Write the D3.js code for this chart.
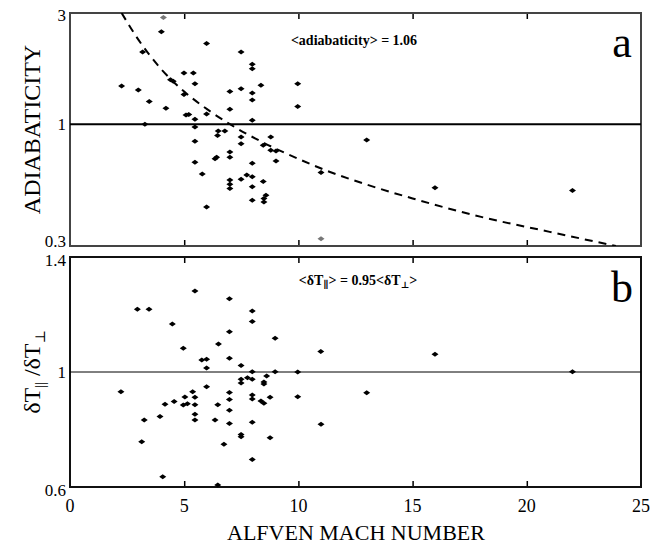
<!DOCTYPE html>
<html>
<head>
<meta charset="utf-8">
<script src="https://cdn.jsdelivr.net/npm/d3@7"></script>
<style>
  body { margin: 0; background: #fff; }
</style>
</head>
<body>
<div id="chart"></div>
<script>
// panel a: mach number vs adiabaticity (log y)
var machA = [4.09, 4.0, 5.98, 3.18, 7.49, 7.98, 7.98, 4.99, 5.40, 4.52, 4.40, 5.47, 2.26, 8.36, 9.97,
  2.99, 7.49, 7.0, 7.98, 4.99, 7.98, 3.47, 4.20, 9.97, 7.0, 5.08, 5.2, 5.98, 5.47, 7.98, 3.28,
  5.47, 6.49, 6.78, 6.46, 7.49, 8.79, 5.47, 7.49, 8.46, 8.79, 9.02, 7.0, 6.42, 6.35, 7.0, 9.02,
  5.47, 7.98, 10.99, 5.79, 7.74, 7.98, 7.49, 7.0, 7.0, 7.0, 8.46, 7.98, 8.58, 8.49, 8.49, 7.98,
  5.98, 10.99, 12.99, 15.98, 22.0];
var adiab = [2.87, 2.49, 2.22, 2.04, 2.04, 1.81, 1.73, 1.66, 1.66, 1.53, 1.55, 1.49, 1.46, 1.47, 1.49,
  1.40, 1.42, 1.38, 1.36, 1.34, 1.27, 1.25, 1.17, 1.19, 1.16, 1.095, 1.10, 1.106, 1.05, 1.04, 1.0,
  0.973, 0.935, 0.935, 0.893, 0.881, 0.881, 0.844, 0.825, 0.811, 0.773, 0.767, 0.76, 0.721, 0.71, 0.721, 0.695,
  0.686, 0.68, 0.621, 0.611, 0.605, 0.595, 0.58, 0.576, 0.552, 0.53, 0.567, 0.539, 0.495, 0.48, 0.463, 0.472,
  0.441, 0.322, 0.855, 0.534, 0.519];
// points drawn grey (top and bottom edge)
var greyA = [0, 64];

// dashed fit curve
var fitMach = [2.26, 3.0, 4.0, 5.0, 6.0, 7.0, 8.5, 10, 11, 13, 15, 18, 21, 23.9];
var fitAdiab = [3.0, 2.3, 1.72, 1.38, 1.16, 1.0, 0.83, 0.71, 0.645, 0.55, 0.48, 0.40, 0.345, 0.30];

// panel b: mach number vs dT_par/dT_perp
var machB = [5.47, 6.98, 2.95, 3.46, 7.98, 7.98, 4.48, 6.98, 8.98, 6.5, 4.96, 6.98, 5.77, 5.98, 5.98,
  7.49, 7.98, 8.98, 9.97, 7.49, 7.49, 7.77, 7.98, 8.49, 8.49, 8.61, 2.23, 5.37, 5.98, 6.98, 7.98,
  7.98, 8.76, 9.97, 5.03, 5.47, 4.56, 4.16, 4.96, 5.14, 5.47, 6.98, 6.47, 8.36, 8.49, 6.98, 5.47,
  3.94, 3.25, 5.47, 6.35, 6.98, 7.98, 10.99, 7.49, 7.49, 8.76, 3.14, 6.74, 7.98, 4.06, 6.47,
  10.98, 15.98, 22.0, 12.99];
var ratio = [1.282, 1.255, 1.218, 1.218, 1.212, 1.176, 1.167, 1.14, 1.117, 1.097, 1.083, 1.048, 1.042, 1.044, 1.014,
  1.023, 1.001, 1.001, 1.0, 0.975, 0.962, 0.98, 0.975, 0.965, 0.958, 0.986, 0.931, 0.931, 0.949, 0.929, 0.92,
  0.906, 0.912, 0.914, 0.913, 0.912, 0.897, 0.888, 0.885, 0.89, 0.886, 0.904, 0.886, 0.899, 0.891, 0.867, 0.853,
  0.845, 0.833, 0.833, 0.833, 0.821, 0.825, 0.818, 0.783, 0.775, 0.771, 0.757, 0.749, 0.696, 0.636, 0.607,
  1.071, 1.062, 1.001, 0.928];

var xTicks = [0, 5, 10, 15, 20, 25];
var yTicksA = [0.3, 1, 3];
var yTicksB = [0.6, 1, 1.4];

var width = 662, height = 546;
var left = 70, right = 641;
var serif = 'Liberation Serif, Times New Roman, DejaVu Serif, serif';

var svg = d3.select('#chart').append('svg')
  .attr('width', width)
  .attr('height', height)
  .attr('font-family', serif);

var x = d3.scaleLinear().domain([0, 25]).range([left, right]);
var yA = d3.scaleLog().domain([0.3, 3]).range([246, 13]);
var yB = d3.scaleLinear().domain([0.6, 1.4]).range([487, 257]);

var diamond = 'M-3.5,0L0,-2.5L3.5,0L0,2.5Z';

function panel(y, frameColor, clipId) {
  var top = y.range()[1], bot = y.range()[0];
  svg.append('clipPath').attr('id', clipId)
    .append('rect')
    .attr('x', left).attr('y', top)
    .attr('width', right - left).attr('height', bot - top);

  // inward ticks on top and bottom edges
  svg.append('g')
    .attr('transform', `translate(0,${bot})`)
    .call(d3.axisBottom(x).tickValues([5, 10, 15, 20]).tickSizeInner(-6).tickSizeOuter(0).tickFormat(''))
    .call(g => g.select('.domain').remove())
    .selectAll('line').attr('stroke', '#000').attr('stroke-width', 1.5);
  svg.append('g')
    .attr('transform', `translate(0,${top})`)
    .call(d3.axisTop(x).tickValues([5, 10, 15, 20]).tickSizeInner(-6).tickSizeOuter(0).tickFormat(''))
    .call(g => g.select('.domain').remove())
    .selectAll('line').attr('stroke', '#000').attr('stroke-width', 1.5);

  svg.append('rect')
    .attr('x', left).attr('y', top)
    .attr('width', right - left).attr('height', bot - top)
    .attr('fill', 'none')
    .attr('stroke', frameColor)
    .attr('stroke-width', 2);
}

panel(yA, '#444', 'clipA');
panel(yB, '#111', 'clipB');

// reference lines at 1
svg.append('line')
  .attr('x1', left).attr('x2', right)
  .attr('y1', yA(1)).attr('y2', yA(1))
  .attr('stroke', '#000').attr('stroke-width', 2);
svg.append('line')
  .attr('x1', left).attr('x2', right)
  .attr('y1', yB(1)).attr('y2', yB(1))
  .attr('stroke', '#000').attr('stroke-width', 1);

// dashed fit
var fitLine = d3.line()
  .x((d, i) => x(fitMach[i]))
  .y(d => yA(d))
  .curve(d3.curveMonotoneX);
svg.append('path')
  .datum(fitAdiab)
  .attr('d', fitLine)
  .attr('clip-path', 'url(#clipA)')
  .attr('fill', 'none')
  .attr('stroke', '#000')
  .attr('stroke-width', 2)
  .attr('stroke-dasharray', '8,6');

// points
svg.append('g').selectAll('path')
  .data(adiab)
  .enter()
  .append('path')
  .attr('d', diamond)
  .attr('transform', (d, i) => `translate(${x(machA[i])},${yA(d)})`)
  .attr('fill', (d, i) => greyA.indexOf(i) >= 0 ? '#777' : '#000');

svg.append('g').selectAll('path')
  .data(ratio)
  .enter()
  .append('path')
  .attr('d', diamond)
  .attr('transform', (d, i) => `translate(${x(machB[i])},${yB(d)})`)
  .attr('fill', '#000');

// y tick labels
function yLabels(y, ticks, shifts) {
  svg.append('g').selectAll('text')
    .data(ticks)
    .enter()
    .append('text')
    .attr('x', left - 4)
    .attr('y', (d, i) => y(d) + shifts[i])
    .attr('dy', '0.35em')
    .attr('text-anchor', 'end')
    .attr('font-size', 17)
    .text(d => d);
}
yLabels(yA, yTicksA, [-5, 0, 2]);
yLabels(yB, yTicksB, [3, 0, 3]);

// x tick labels
svg.append('g').selectAll('text')
  .data(xTicks)
  .enter()
  .append('text')
  .attr('x', d => x(d))
  .attr('y', 512)
  .attr('text-anchor', 'middle')
  .attr('font-size', 18)
  .text(d => d);

// axis titles
svg.append('text')
  .attr('x', 356).attr('y', 540)
  .attr('text-anchor', 'middle')
  .attr('font-size', 22)
  .text('ALFVEN MACH NUMBER');

svg.append('text')
  .attr('transform', `translate(40,${(13 + 246) / 2}) rotate(-90)`)
  .attr('text-anchor', 'middle')
  .attr('font-size', 24)
  .text('ADIABATICITY');

var yt = svg.append('text')
  .attr('transform', `translate(40,372) rotate(-90)`)
  .attr('text-anchor', 'middle')
  .attr('font-size', 24);
yt.append('tspan').text('δT');
yt.append('tspan').attr('font-size', 14).attr('dy', 5).text('||');
yt.append('tspan').attr('dy', -5).text(' /δT');
yt.append('tspan').attr('font-size', 14).attr('dy', 5).text('⊥');

// annotations
svg.append('text')
  .attr('x', 354).attr('y', 45)
  .attr('text-anchor', 'middle')
  .attr('font-size', 14)
  .attr('font-weight', 'bold')
  .text('<adiabaticity> = 1.06');

var ann = svg.append('text')
  .attr('x', 358).attr('y', 285)
  .attr('text-anchor', 'middle')
  .attr('font-size', 14)
  .attr('font-weight', 'bold');
ann.append('tspan').text('<δT');
ann.append('tspan').attr('font-size', 10).attr('dy', 3).text('∥');
ann.append('tspan').attr('dy', -3).text('> = 0.95<δT');
ann.append('tspan').attr('font-size', 9).attr('dy', 3).text('⊥');
ann.append('tspan').attr('dy', -3).text('>');

svg.append('text')
  .attr('x', 622).attr('y', 57)
  .attr('text-anchor', 'middle')
  .attr('font-size', 44)
  .text('a');
svg.append('text')
  .attr('x', 622).attr('y', 302)
  .attr('text-anchor', 'middle')
  .attr('font-size', 44)
  .text('b');
</script>
</body>
</html>
